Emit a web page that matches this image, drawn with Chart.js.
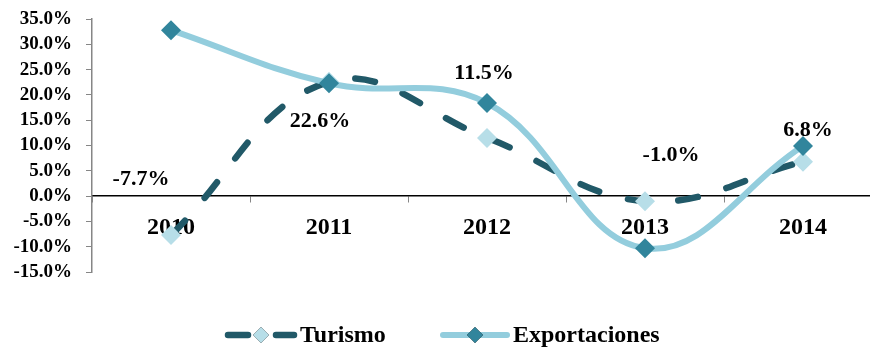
<!DOCTYPE html>
<html>
<head>
<meta charset="utf-8">
<script src="https://cdn.jsdelivr.net/npm/chart.js@4"></script>
<style>
  html, body { margin: 0; padding: 0; background: #fff; overflow: hidden; }
  #chart1 { display: block; }
</style>
</head>
<body>
<canvas id="chart1" width="892" height="347"></canvas>
<script>
// growth rates, percent
const years = ['2010', '2011', '2012', '2013', '2014'];
const turismo = [-7.7, 22.6, 11.5, -1.0, 6.8];
const exportaciones = [32.8, 22.3, 18.4, -10.3, 9.9];
const yTicks = { min: -15, max: 35, step: 5 };

// where each turismo value label sits relative to its point
const labelOffsets = [[-30, -56], [-9, 40], [-3, -65], [26, -46], [5, -31]];

const FONT = '"Liberation Serif", "Times New Roman", serif';

const valueLabels = {
    id: 'valueLabels',
    afterDatasetsDraw(chart) {
        const ctx = chart.ctx;
        const meta = chart.getDatasetMeta(0);
        ctx.save();
        ctx.font = 'bold 22px ' + FONT;
        ctx.fillStyle = '#000';
        ctx.textAlign = 'center';
        ctx.textBaseline = 'middle';
        meta.data.forEach((pt, i) => {
            const off = labelOffsets[i];
            ctx.fillText(turismo[i].toFixed(1) + '%', pt.x + off[0], pt.y + off[1]);
        });
        ctx.restore();
    }
};

// legend: line sample with marker in the middle, then the name
const lineLegend = {
    id: 'lineLegend',
    afterDraw(chart) {
        const ctx = chart.ctx;
        const items = [
            { ds: chart.data.datasets[0], x: 225, w: 72 },
            { ds: chart.data.datasets[1], x: 440, w: 70 }
        ];
        const y = 335;
        ctx.save();
        items.forEach(it => {
            const ds = it.ds;
            ctx.strokeStyle = ds.borderColor;
            ctx.lineWidth = ds.borderWidth;
            ctx.lineCap = 'round';
            ctx.setLineDash(ds.borderDash ? [20, 28] : []);
            ctx.beginPath();
            ctx.moveTo(it.x + 3, y);
            ctx.lineTo(it.x + it.w - 3, y);
            ctx.stroke();
            ctx.setLineDash([]);
            Chart.helpers.drawPoint(ctx, {
                pointStyle: 'rectRot', radius: 8, borderWidth: 0
            }, it.x + it.w / 2, y);
            ctx.fillStyle = ds.pointBackgroundColor;
            ctx.fill();
            ctx.font = 'bold 24px ' + FONT;
            ctx.fillStyle = '#000';
            ctx.textAlign = 'left';
            ctx.textBaseline = 'middle';
            ctx.fillText(ds.label, it.x + it.w + 3, y + 1);
        });
        ctx.restore();
    }
};

new Chart(document.getElementById('chart1').getContext('2d'), {
    type: 'line',
    data: {
        labels: years,
        datasets: [{
            label: 'Turismo',
            data: turismo,
            borderColor: '#215968',
            borderWidth: 6.5,
            borderDash: [20, 30],
            borderCapStyle: 'round',
            tension: 0.4,
            pointStyle: 'rectRot',
            pointRadius: 10,
            pointBorderWidth: 0,
            pointBackgroundColor: '#B7DEE8',
            pointBorderColor: '#B7DEE8',
            order: 1
        }, {
            label: 'Exportaciones',
            data: exportaciones,
            borderColor: '#93CDDD',
            borderWidth: 6,
            borderCapStyle: 'round',
            tension: 0.4,
            pointStyle: 'rectRot',
            pointRadius: 10,
            pointBorderWidth: 0,
            pointBackgroundColor: '#31859C',
            pointBorderColor: '#31859C',
            order: 0
        }]
    },
    options: {
        responsive: false,
        animation: false,
        layout: { padding: { top: 19, bottom: 75, left: 0, right: 0 } },
        plugins: {
            legend: { display: false },
            tooltip: { enabled: false }
        },
        scales: {
            x: {
                position: { y: 0 },
                offset: true,
                grid: { offset: true, drawOnChartArea: false, tickLength: 6, color: '#868686' },
                border: { color: '#000', width: 1.5 },
                ticks: { color: '#000', padding: 11, font: { family: FONT, size: 24, weight: 'bold' } }
            },
            y: {
                min: yTicks.min,
                max: yTicks.max,
                afterFit(scale) {
                    scale.width = 92;
                    // keep the plot edges on the padding, not on the label overhang
                    scale.paddingTop = 0;
                    scale.paddingBottom = 0;
                },
                grid: { drawOnChartArea: false, tickLength: 6, color: '#868686' },
                border: { color: '#868686', width: 1.5 },
                ticks: {
                    stepSize: yTicks.step,
                    autoSkip: false,
                    color: '#000',
                    padding: 14,
                    font: { family: FONT, size: 19, weight: 'bold' },
                    callback: v => v.toFixed(1) + '%'
                }
            }
        }
    },
    plugins: [valueLabels, lineLegend]
});
</script>
</body>
</html>
